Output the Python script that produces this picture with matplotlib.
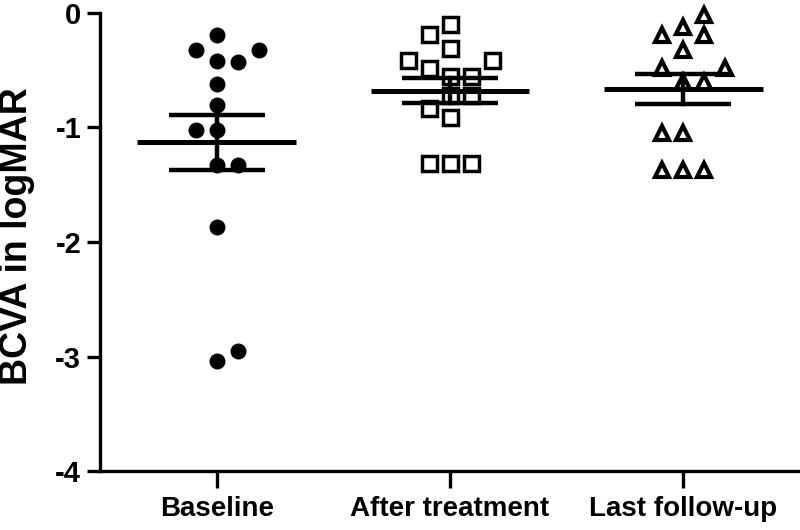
import numpy as np
import matplotlib
matplotlib.use('Agg')
import matplotlib.pyplot as plt
from matplotlib import font_manager

# values (logMAR)
groups = ['Baseline', 'After treatment', 'Last follow-up']

baseline = [-0.19, -0.32, -0.32, -0.42, -0.43, -0.62, -0.80,
            -1.02, -1.02, -1.33, -1.33, -1.87, -2.95, -3.04]
baseline_slot = [0, -1, 2, 0, 1, 0, 0, -1, 0, 0, 1, 0, 1, 0]

after = [-0.10, -0.18, -0.31, -0.41, -0.41, -0.48, -0.55,
         -0.55, -0.72, -0.72, -0.83, -0.91, -1.31, -1.31, -1.31]
after_slot = [0, -1, 0, -2, 2, -1, 0, 1, 0, 1, -1, 0, -1, 0, 1]

last = [-0.02, -0.12, -0.19, -0.19, -0.32, -0.48, -0.48,
        -0.60, -0.60, -1.05, -1.05, -1.37, -1.37, -1.37]
last_slot = [1, 0, -1, 1, 0, -1, 2, 0, 1, -1, 0, -1, 0, 1]

means = [-1.13, -0.68, -0.66]
sems = [0.243, 0.11, 0.131]

yticks = [0, -1, -2, -3, -4]

names = {f.name for f in font_manager.fontManager.ttflist}
narrow = 'Liberation Sans Narrow' if 'Liberation Sans Narrow' in names else None

plt.rcParams['font.family'] = ['Liberation Sans', 'DejaVu Sans']

fig = plt.figure(figsize=(8, 5.3), dpi=100)
ax = fig.add_axes([0.125, 0.1113, 0.875, 0.8642])

step = 0.09
data = [(baseline, baseline_slot, dict(marker='o', markersize=11.5, mfc='black', mec='black', mew=0)),
        (after, after_slot, dict(marker='s', markersize=10.8, mfc='white', mec='black', mew=2.5)),
        (last, last_slot, dict(marker='^', markersize=9.5, mfc='white', mec='black', mew=3.0))]

for i, (vals, slots, style) in enumerate(data):
    xs = i + np.array(slots) * step
    ax.plot(xs, vals, linestyle='none', zorder=3, clip_on=False, **style)

for i in range(3):
    m = means[i]
    s = sems[i]
    ax.plot([i - 0.34, i + 0.34], [m, m], color='black', lw=3.6, solid_capstyle='butt', zorder=4)
    ax.plot([i - 0.205, i + 0.205], [m + s, m + s], color='black', lw=3.2, solid_capstyle='butt', zorder=4)
    ax.plot([i - 0.205, i + 0.205], [m - s, m - s], color='black', lw=3.2, solid_capstyle='butt', zorder=4)
    ax.plot([i, i], [m - s, m + s], color='black', lw=3.2, zorder=4)

ax.set_xlim(-0.5, 2.5)
ax.set_ylim(-4, 0)
ax.set_yticks(yticks)
ax.set_yticklabels([str(t) for t in yticks], fontsize=21, fontweight='bold')
ax.set_xticks(range(3))
if narrow:
    ax.set_xticklabels(groups, fontsize=23, fontweight='bold', family=narrow)
else:
    ax.set_xticklabels(groups, fontsize=20, fontweight='bold')

ax.spines['top'].set_visible(False)
ax.spines['right'].set_visible(False)
ax.spines['left'].set_linewidth(2.4)
ax.spines['bottom'].set_linewidth(2.4)
ax.tick_params(axis='y', length=9.5, width=2.4, pad=4)
ax.tick_params(axis='x', length=12, width=2.4, pad=6)

fig.text(17 / 800, 1 - 236 / 530, 'BCVA in logMAR', rotation=90, ha='center', va='center',
         fontsize=27, fontweight='bold')

fig.savefig('out.png', dpi=100)
